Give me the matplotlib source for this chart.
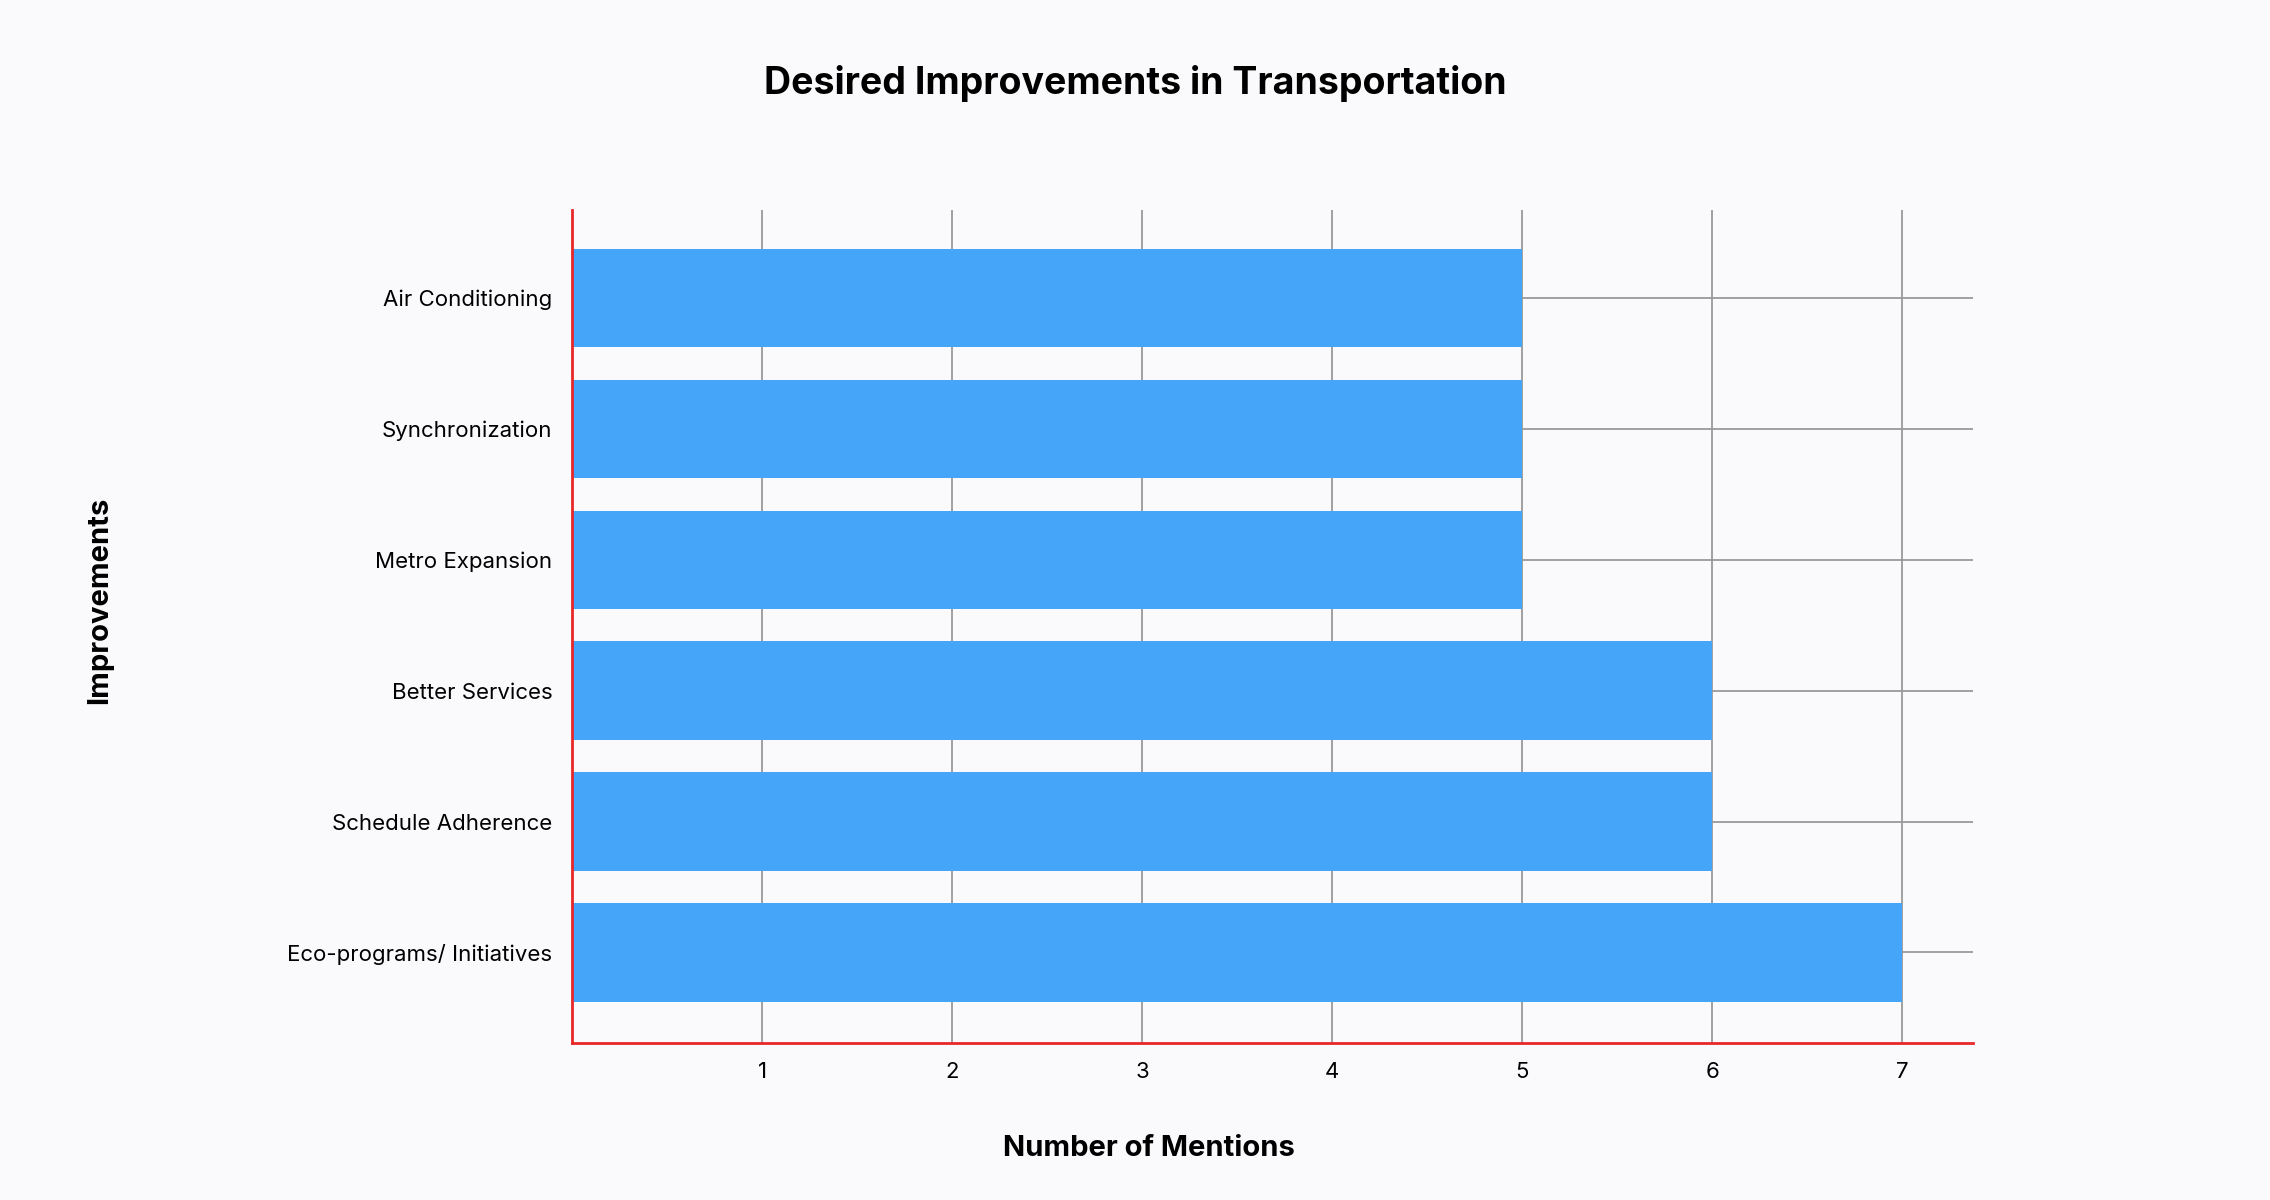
import matplotlib
matplotlib.use("Agg")
import matplotlib.pyplot as plt

categories = ["Eco-programs/ Initiatives", "Schedule Adherence", "Better Services",
              "Metro Expansion", "Synchronization", "Air Conditioning"]
values = [7, 6, 6, 5, 5, 5]
xticks = [1, 2, 3, 4, 5, 6, 7]

plt.rcParams['font.family'] = ['Inter', 'DejaVu Sans']
fig = plt.figure(figsize=(22.7, 12), dpi=100, facecolor="#FAF9FB")
ax = fig.add_axes([0.252, 0.131, 0.617, 0.694])
ax.set_facecolor("#FAF9FB")
y = list(range(len(categories)))
ax.barh(y, values, height=0.75, color="#45A5F9", zorder=3)
ax.set_yticks(y)
ax.set_yticklabels(categories, fontsize=16)
ax.set_xticks(xticks)
ax.set_xticklabels([str(t) for t in xticks], fontsize=16)
ax.set_xlim(0, 7.37)
ax.set_ylim(-0.69, 5.67)
ax.grid(True, color="#999999", linewidth=1.3, zorder=1)
ax.tick_params(length=0, pad=14)
for s in ["top", "right"]:
    ax.spines[s].set_visible(False)
for s in ["left", "bottom"]:
    ax.spines[s].set_color("#E8272A")
    ax.spines[s].set_linewidth(2)
    ax.spines[s].set_zorder(4)
fig.text(0.5, 0.93, "Desired Improvements in Transportation", ha="center", va="center",
         fontsize=27, fontweight="bold")
fig.text(0.506, 0.043, "Number of Mentions", ha="center", va="center", fontsize=21, fontweight="bold")
fig.text(0.044, 0.5, "Improvements", ha="center", va="center", rotation=90, fontsize=21, fontweight="bold")
fig.savefig("out.png", dpi=100, facecolor=fig.get_facecolor())
